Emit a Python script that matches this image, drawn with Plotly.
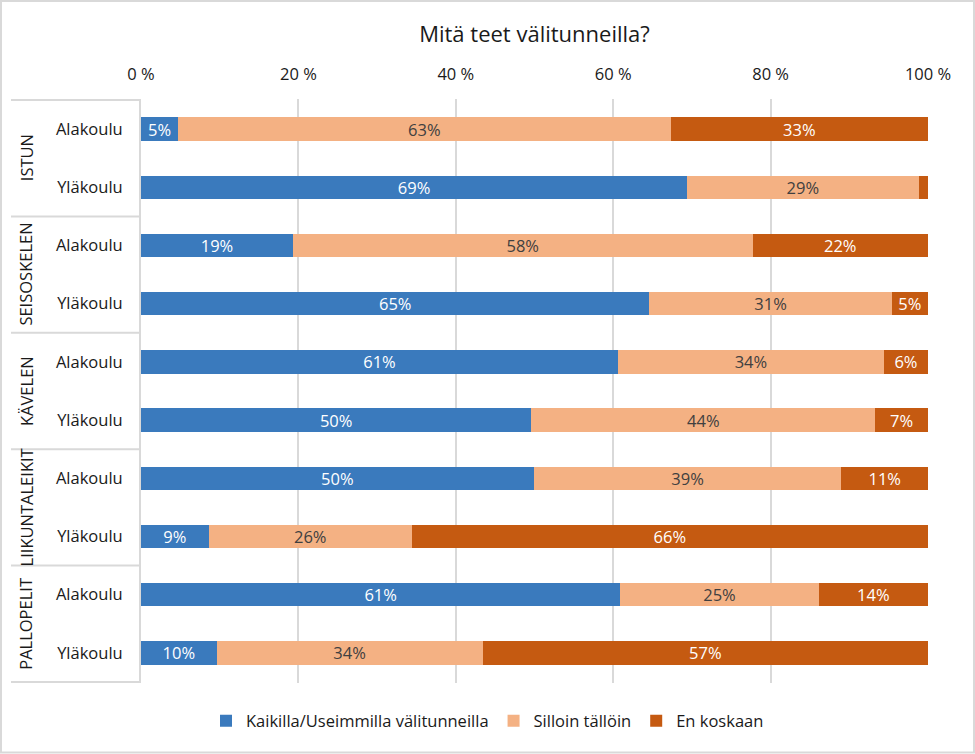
import plotly.graph_objects as go

groups = ["ISTUN", "SEISOSKELEN", "KÄVELEN", "LIIKUNTALEIKIT", "PALLOPELIT"]
levels = ["Alakoulu", "Yläkoulu"]
series_names = ["Kaikilla/Useimmilla välitunneilla", "Silloin tällöin", "En koskaan"]

kaikilla = [4.7, 69.4, 19.3, 64.6, 60.6, 49.6, 49.9, 8.6, 60.9, 9.6]
silloin = [62.6, 29.4, 58.4, 30.8, 33.8, 43.7, 39.1, 25.8, 25.2, 33.8]
en_koskaan = [32.7, 1.2, 22.3, 4.6, 5.6, 6.7, 11.0, 65.6, 13.9, 56.6]

x_ticks = [0, 20, 40, 60, 80, 100]

colors = ["#3A7ABD", "#F4B183", "#C55A11"]
text_colors = ["white", "#404040", "white"]

FONT = "Open Sans, sans-serif"
FS = 16.5

cats = [f"{g}|{l}" for g in groups for l in levels]
tick_text = [l for g in groups for l in levels]

fig = go.Figure()
for name, vals, col, tcol in zip(series_names, [kaikilla, silloin, en_koskaan], colors, text_colors):
    fig.add_trace(go.Bar(
        y=cats, x=vals, orientation="h", name=name,
        marker=dict(color=col, line=dict(width=0)),
        text=[f"{round(v)}%" if v >= 2 else "" for v in vals],
        textposition="inside", insidetextanchor="middle",
        textangle=0, constraintext="none",
        textfont=dict(color=tcol, size=FS, family=FONT),
        hoverinfo="x+name",
    ))

L, R, T, B = 141, 47, 99, 71
W, H = 975, 754
pw, ph = W - L - R, H - T - B

def px_to_paper_x(px):
    return (px - L) / pw

def px_to_paper_y(py):
    return (H - B - py) / ph

shapes = []
for b in [-0.5, 1.5, 3.5, 5.5, 7.5, 9.5]:
    shapes.append(dict(type="line", xref="paper", yref="y",
                       x0=px_to_paper_x(11), x1=px_to_paper_x(139), y0=b, y1=b,
                       line=dict(color="#D9D9D9", width=2)))
shapes.append(dict(type="rect", xref="paper", yref="paper",
                   x0=px_to_paper_x(1), x1=px_to_paper_x(974),
                   y0=px_to_paper_y(752.5), y1=px_to_paper_y(1),
                   line=dict(color="#D9D9D9", width=2), layer="below"))

annotations = []
for i, g in enumerate(groups):
    annotations.append(dict(
        text=g, xref="paper", yref="y", x=px_to_paper_x(26), y=2 * i + 0.5,
        textangle=-90, showarrow=False, xanchor="center", yanchor="middle",
        font=dict(size=FS, color="#1a1a1a", family=FONT)))

fig.update_layout(
    width=W, height=H,
    margin=dict(l=L, r=R, t=T, b=B, autoexpand=False),
    barmode="stack", bargap=0.6,
    paper_bgcolor="white", plot_bgcolor="white",
    title=dict(text="Mitä teet välitunneilla?", x=0.5, xref="paper", xanchor="center",
               y=1 - 34 / H, yanchor="middle",
               font=dict(size=22, color="#1a1a1a", family=FONT)),
    font=dict(family=FONT, color="#1a1a1a", size=FS),
    xaxis=dict(side="top", range=[0, 100], tickvals=x_ticks,
               ticktext=[f"{v} %" for v in x_ticks],
               showgrid=True, gridcolor="#D9D9D9", gridwidth=1.5, zeroline=False,
               ticks="outside", ticklen=11, tickcolor="rgba(0,0,0,0)",
               tickfont=dict(size=FS, color="#1a1a1a", family=FONT), fixedrange=True),
    yaxis=dict(type="category", categoryorder="array", categoryarray=cats,
               autorange="reversed", tickvals=cats, ticktext=tick_text,
               showline=True, linecolor="#D9D9D9", linewidth=2,
               ticks="outside", ticklen=13, tickcolor="rgba(0,0,0,0)",
               tickfont=dict(size=FS, color="#1a1a1a", family=FONT), showgrid=False),
    legend=dict(orientation="h", x=px_to_paper_x(487.5), xanchor="center",
                y=px_to_paper_y(721), yanchor="middle",
                font=dict(size=FS, color="#1a1a1a", family=FONT),
                traceorder="normal", itemwidth=30),
    shapes=shapes, annotations=annotations,
    showlegend=True,
)

fig.write_html("out.html", config={"displayModeBar": False},
               post_script="document.body.style.margin='0';document.body.style.overflow='hidden';")
